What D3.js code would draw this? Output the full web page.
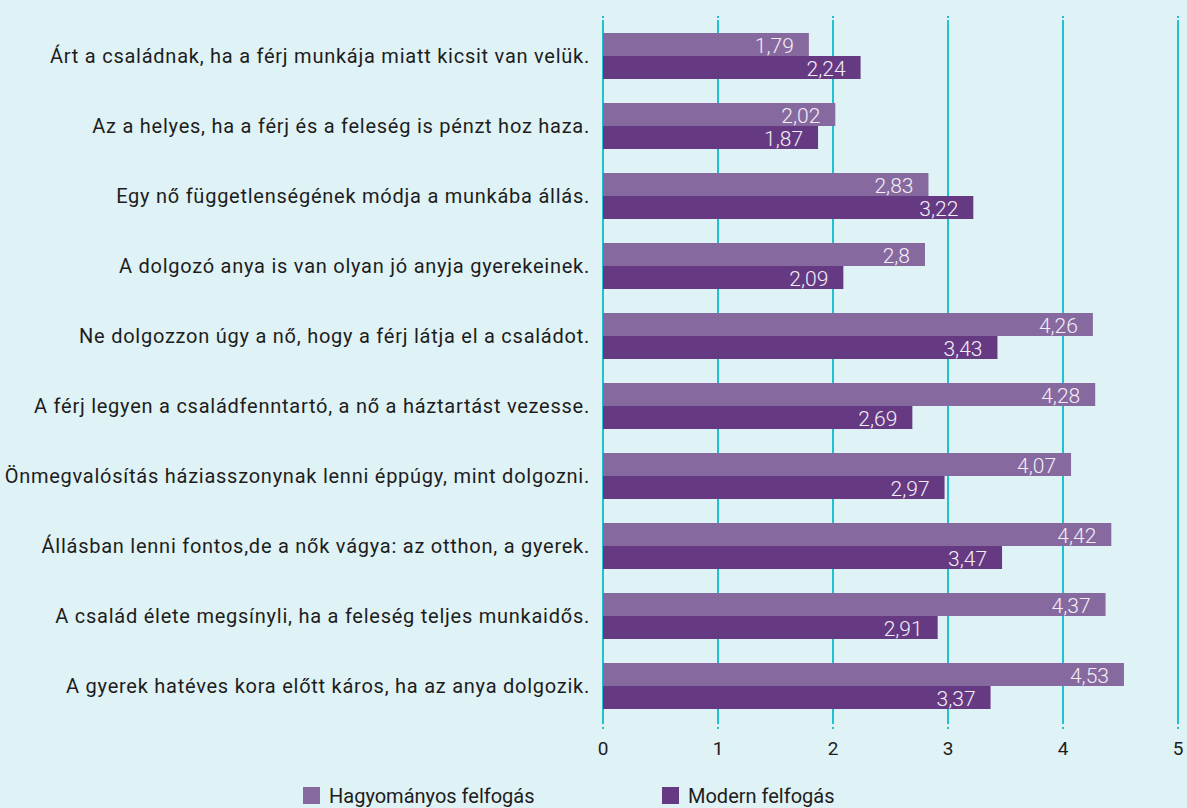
<!DOCTYPE html>
<html>
<head>
<meta charset="utf-8">
<script src="https://cdn.jsdelivr.net/npm/d3@7"></script>
<style>
  html, body { margin: 0; padding: 0; background: #dff2f5; }
  svg { display: block; font-family: Roboto, "Noto Sans", sans-serif; }
</style>
</head>
<body>
<svg id="chart" width="1187" height="808"></svg>
<script>
// Statements (top to bottom)
const statements = [
    "Árt a családnak, ha a férj munkája miatt kicsit van velük.",
    "Az a helyes, ha a férj és a feleség is pénzt hoz haza.",
    "Egy nő függetlenségének módja a munkába állás.",
    "A dolgozó anya is van olyan jó anyja gyerekeinek.",
    "Ne dolgozzon úgy a nő, hogy a férj látja el a családot.",
    "A férj legyen a családfenntartó, a nő a háztartást vezesse.",
    "Önmegvalósítás háziasszonynak lenni éppúgy, mint dolgozni.",
    "Állásban lenni fontos,de a nők vágya: az otthon, a gyerek.",
    "A család élete megsínyli, ha a feleség teljes munkaidős.",
    "A gyerek hatéves kora előtt káros, ha az anya dolgozik."
];

const traditional = [1.79, 2.02, 2.83, 2.8, 4.26, 4.28, 4.07, 4.42, 4.37, 4.53];
const modern = [2.24, 1.87, 3.22, 2.09, 3.43, 2.69, 2.97, 3.47, 2.91, 3.37];

const seriesNames = ["Hagyományos felfogás", "Modern felfogás"];
const tickValues = [0, 1, 2, 3, 4, 5];

const colors = {
    "Hagyományos felfogás": "#86699f",
    "Modern felfogás": "#653a83"
};

const svg = d3.select("#chart");

// Scales
const x = d3.scaleLinear().domain([0, 5]).range([603, 1178]);
const y = d3.scaleBand()
    .domain(statements)
    .range([21, 721])
    .paddingInner(24 / 70)
    .paddingOuter(12 / 70);
const ySub = d3.scaleBand()
    .domain(seriesNames)
    .range([0, y.bandwidth()]);

const rows = statements.map((s, i) => ({
    label: s,
    values: [
        { key: seriesNames[0], value: traditional[i] },
        { key: seriesNames[1], value: modern[i] }
    ]
}));

// Gridlines with little dotted ends
const grid = svg.append("g").attr("class", "grid");
grid.selectAll("line")
    .data(tickValues)
    .enter().append("line")
    .attr("x1", d => x(d)).attr("x2", d => x(d))
    .attr("y1", 20).attr("y2", 724)
    .attr("stroke", "#1fc2d2")
    .attr("stroke-width", 2);
grid.selectAll("rect.top")
    .data(tickValues)
    .enter().append("rect")
    .attr("class", "top")
    .attr("x", d => x(d) - 1).attr("y", 16)
    .attr("width", 2).attr("height", 2)
    .attr("fill", "#1fc2d2");
grid.selectAll("rect.bottom")
    .data(tickValues)
    .enter().append("rect")
    .attr("class", "bottom")
    .attr("x", d => x(d) - 1).attr("y", 727)
    .attr("width", 2).attr("height", 2)
    .attr("fill", "#1fc2d2");

// Axis labels
svg.append("g")
    .selectAll("text")
    .data(tickValues)
    .enter().append("text")
    .attr("x", d => x(d))
    .attr("y", 755)
    .attr("text-anchor", "middle")
    .attr("font-size", 19)
    .attr("fill", "#1d1d1d")
    .text(d => d);

// Statement labels
svg.append("g")
    .selectAll("text")
    .data(statements)
    .enter().append("text")
    .attr("x", 590)
    .attr("y", d => y(d) + y.bandwidth() / 2)
    .attr("dy", "0.36em")
    .attr("text-anchor", "end")
    .attr("font-size", 20)
    .attr("letter-spacing", "0.75px")
    .attr("fill", "#1d1d1d")
    .text(d => d);

// Bars
const groups = svg.append("g")
    .selectAll("g")
    .data(rows)
    .enter().append("g")
    .attr("transform", d => `translate(0,${y(d.label)})`);

groups.selectAll("rect")
    .data(d => d.values)
    .enter().append("rect")
    .attr("x", x(0))
    .attr("y", d => ySub(d.key))
    .attr("width", d => x(d.value) - x(0))
    .attr("height", ySub.bandwidth())
    .attr("fill", d => colors[d.key]);

groups.selectAll("text")
    .data(d => d.values)
    .enter().append("text")
    .attr("x", d => x(d.value) - 15)
    .attr("y", d => ySub(d.key) + ySub.bandwidth() - 3)
    .attr("text-anchor", "end")
    .attr("font-size", 21)
    .attr("font-weight", 300)
    .attr("fill", "#f3eef6")
    .text(d => String(d.value).replace(".", ","));

// Legend
const legendX = [303, 662];
const legend = svg.append("g")
    .selectAll("g")
    .data(seriesNames)
    .enter().append("g")
    .attr("transform", (d, i) => `translate(${legendX[i]},787)`);

legend.append("rect")
    .attr("width", 17)
    .attr("height", 17)
    .attr("fill", d => colors[d]);

legend.append("text")
    .attr("x", 26)
    .attr("y", 16)
    .attr("font-size", 20)
    .attr("fill", "#1d1d1d")
    .text(d => d);
</script>
</body>
</html>
